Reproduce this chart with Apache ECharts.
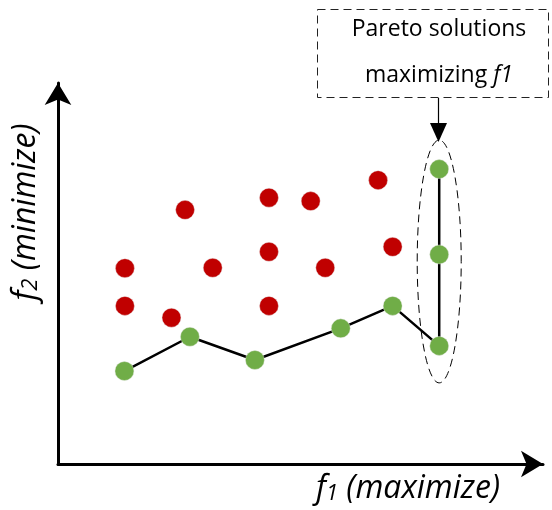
<!DOCTYPE html>
<html>
<head>
<meta charset="utf-8">
<script src="https://cdn.jsdelivr.net/npm/echarts@6/dist/echarts.min.js"></script>
<style>
  html, body { margin: 0; padding: 0; background: #fff; }
  #chart { width: 552px; height: 510px; }
</style>
</head>
<body>
<div id="chart"></div>
<script>
// dominated solutions (red)
var dominatedF1 = [1.38, 1.38, 2.62, 2.34, 3.19, 4.35, 4.35, 4.35, 5.21, 5.51, 6.60, 6.90];
var dominatedF2 = [5.14, 4.15, 6.67, 3.84, 5.15, 6.99, 5.57, 4.15, 6.90, 5.15, 7.45, 5.70];
// pareto front (green), in drawing order
var paretoF1 = [1.37, 2.72, 4.06, 5.83, 6.90, 7.86, 7.86, 7.86];
var paretoF2 = [2.44, 3.34, 2.73, 3.56, 4.15, 3.10, 5.50, 7.74];
// the ones that maximize f1
var maxF1Idx = [5, 6, 7];

var FONT = '"Open Sans", Lato, sans-serif';

function zip (a, b) {
  return a.map(function (v, i) { return [v, b[i]] })
}

function axisTitle (sub, rest) {
  return {
    text: '{f|f}{s|' + sub + '}{n| (' + rest + ')}',
    align: 'center', verticalAlign: 'middle',
    rich: {
      f: { fontSize: 32, fontFamily: FONT, fontStyle: 'italic', color: '#000' },
      s: { fontSize: 22, fontFamily: FONT, fontStyle: 'italic', color: '#000', padding: [10, 0, 0, 0] },
      n: { fontSize: 32, fontFamily: FONT, fontStyle: 'italic', color: '#000' }
    }
  }
}

var chart = echarts.init(document.getElementById('chart'), null, { renderer: 'canvas' })

var option = {
  animation: false,
  backgroundColor: '#fff',
  grid: { left: 58, right: 9, top: 83, bottom: 46 },
  xAxis: {
    type: 'value', min: 0, max: 10,
    axisLine: { show: true, symbol: ['none', 'arrow'], symbolSize: [20, 22], lineStyle: { color: '#000', width: 3 } },
    axisTick: { show: false }, axisLabel: { show: false }, splitLine: { show: false }
  },
  yAxis: {
    type: 'value', min: 0, max: 10,
    axisLine: { show: true, symbol: ['none', 'arrow'], symbolSize: [20, 22], lineStyle: { color: '#000', width: 3 } },
    axisTick: { show: false }, axisLabel: { show: false }, splitLine: { show: false }
  },
  series: [{
    name: 'dominated',
    type: 'scatter',
    symbolSize: 19,
    data: zip(dominatedF1, dominatedF2),
    itemStyle: { color: '#C00000', opacity: 1, borderColor: 'rgba(230,230,230,0.7)', borderWidth: 0.6 }
  }, {
    name: 'pareto',
    type: 'line',
    symbol: 'circle',
    symbolSize: 19,
    data: zip(paretoF1, paretoF2),
    lineStyle: { color: '#000', width: 2.5 },
    itemStyle: { color: '#70AD47', opacity: 1, borderColor: 'rgba(230,230,230,0.7)', borderWidth: 0.6 },
    z: 3
  }]
}
chart.setOption(option)

// ellipse around the f1-maximizing points
var pts = maxF1Idx.map(function (i) {
  return chart.convertToPixel({ gridIndex: 0 }, [paretoF1[i], paretoF2[i]])
})
var cx = pts[0][0]
var yTop = Math.min.apply(null, pts.map(function (p) { return p[1] })) - 29
var yBot = Math.max.apply(null, pts.map(function (p) { return p[1] })) + 37

chart.setOption({
  graphic: [{
    type: 'ellipse',
    shape: { cx: cx, cy: (yTop + yBot) / 2, rx: 22, ry: (yBot - yTop) / 2 },
    style: { fill: null, stroke: '#000', lineWidth: 1, lineDash: [8, 5] },
    z: 1
  }, {
    type: 'rect',
    shape: { x: 317.5, y: 9.5, width: 231, height: 88 },
    style: { fill: '#fff', stroke: '#222', lineWidth: 1, lineDash: [8, 5] }
  }, {
    type: 'text',
    x: 439, y: 29,
    style: { text: 'Pareto solutions', font: '23px ' + FONT, fill: '#000', align: 'center', verticalAlign: 'middle' }
  }, {
    type: 'text',
    x: 439, y: 75,
    style: {
      text: '{n|maximizing }{i|f1}',
      align: 'center', verticalAlign: 'middle',
      rich: {
        n: { fontSize: 23, fontFamily: FONT, color: '#000' },
        i: { fontSize: 23, fontFamily: FONT, fontStyle: 'italic', color: '#000' }
      }
    }
  }, {
    type: 'line',
    shape: { x1: 438.5, y1: 98, x2: 438.5, y2: 125 },
    style: { stroke: '#000', lineWidth: 1.2 }
  }, {
    type: 'polygon',
    shape: { points: [[430, 123], [447, 123], [438.5, yTop + 2]] },
    style: { fill: '#000' }
  }, {
    type: 'text',
    x: 408, y: 489,
    style: axisTitle('1', 'maximize')
  }, {
    type: 'text',
    x: 26, y: 212,
    rotation: Math.PI / 2,
    style: axisTitle('2', 'minimize')
  }]
})
</script>
</body>
</html>
